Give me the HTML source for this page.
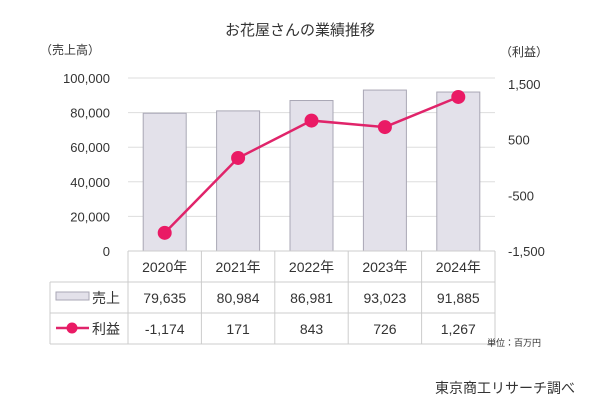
<!DOCTYPE html>
<html><head><meta charset="utf-8"><style>
body{margin:0;background:#fff;}
svg text{font-family:"Liberation Sans","Noto Sans CJK JP",sans-serif;fill:#333;}
</style></head><body>
<svg width="600" height="405" viewBox="0 0 600 405">
<g id="root"></g>
</svg>
<script>
const categories=["2020年","2021年","2022年","2023年","2024年"];
const sales=[79635,80984,86981,93023,91885];
const profit=[-1174,171,843,726,1267];
const salesLabels=["79,635","80,984","86,981","93,023","91,885"];
const profitLabels=["-1,174","171","843","726","1,267"];
const leftTicks=[0,20000,40000,60000,80000,100000];
const leftTickLabels=["0","20,000","40,000","60,000","80,000","100,000"];
const rightTicks=[-1500,-500,500,1500];
const rightTickLabels=["-1,500","-500","500","1,500"];

const NS="http://www.w3.org/2000/svg";
const root=document.getElementById('root');
function mk(tag,attrs,parent,text){const e=document.createElementNS(NS,tag);for(const k in attrs)e.setAttribute(k,attrs[k]);if(text!==undefined)e.textContent=text;(parent||root).appendChild(e);return e;}
const X0=128,X1=495,Y0=251,Ytop=78;
const bw=(X1-X0)/categories.length;
const yL=v=>Y0-(v/100000)*(Y0-Ytop);
const yR=v=>251-(v+1500)/3000*(251-84);
const xC=i=>X0+bw*(i+0.5);

let t=mk('text',{x:300,y:35,'text-anchor':'middle','font-size':15});t.textContent='お花屋さんの業績推移';

t=mk('text',{x:40,y:54,'font-size':12},root,'（売上高）');

t=mk('text',{x:500,y:56,'font-size':12},root,'（利益）');


leftTicks.forEach((v,i)=>{
  const y=yL(v);
  if(v>0){const l=mk('line',{x1:X0,x2:X1,y1:y,y2:y,stroke:'#ddd','stroke-width':1});
  }
  const tx=mk('text',{x:110,y:y+5,'text-anchor':'end','font-size':13},root,leftTickLabels[i]);
  
});
rightTicks.forEach((v,i)=>{
  const tx=mk('text',{x:508,y:yR(v)+5,'font-size':13},root,rightTickLabels[i]);
  
});
sales.forEach((v,i)=>{
  const b=mk('rect',{x:xC(i)-21.5,y:yL(v),width:43,height:Y0-yL(v),fill:'#e3e1ea',stroke:'#a9a7b5','stroke-width':1});
  
});
const pl=mk('polyline',{points:profit.map((v,i)=>xC(i)+','+yR(v)).join(' '),fill:'none',stroke:'#e0246a','stroke-width':2.5});

profit.forEach((v,i)=>{
  const c=mk('circle',{cx:xC(i),cy:yR(v),r:7,fill:'#ea1a65'});
  
});
// table
const tb=mk('g',{});
const rows=[251,282,313,344];
mk('line',{x1:X0,x2:X1,y1:251,y2:251,stroke:'#ccc'},tb);
mk('line',{x1:50,x2:X1,y1:282,y2:282,stroke:'#ccc'},tb);
mk('line',{x1:50,x2:X1,y1:313,y2:313,stroke:'#ccc'},tb);
mk('line',{x1:50,x2:X1,y1:344,y2:344,stroke:'#ccc'},tb);
mk('line',{x1:50,x2:50,y1:282,y2:344,stroke:'#ccc'},tb);
for(let i=0;i<=categories.length;i++)mk('line',{x1:X0+bw*i,x2:X0+bw*i,y1:251,y2:344,stroke:'#ccc'},tb);
categories.forEach((c,i)=>{
  const a=mk('text',{x:xC(i),y:272,'text-anchor':'middle','font-size':14},tb,c);
  
  const b=mk('text',{x:xC(i),y:303,'text-anchor':'middle','font-size':14},tb,salesLabels[i]);
  
  const d=mk('text',{x:xC(i),y:334,'text-anchor':'middle','font-size':14},tb,profitLabels[i]);
  
});
const ls=mk('rect',{x:56,y:292,width:33,height:8,fill:'#e3e1ea',stroke:'#a9a7b5'},tb);

t=mk('text',{x:92,y:303,'font-size':14},tb,'売上');

mk('line',{x1:56,x2:89,y1:328,y2:328,stroke:'#e0246a','stroke-width':2.5},tb);
const lc=mk('circle',{cx:72,cy:328,r:5.5,fill:'#ea1a65'},tb);

t=mk('text',{x:92,y:334,'font-size':14},tb,'利益');

t=mk('text',{x:487,y:346,'font-size':9},root,'単位：百万円');

t=mk('text',{x:575,y:393,'text-anchor':'end','font-size':14,fill:'#222'},root,'東京商工リサーチ調べ');

</script>
</body></html>
